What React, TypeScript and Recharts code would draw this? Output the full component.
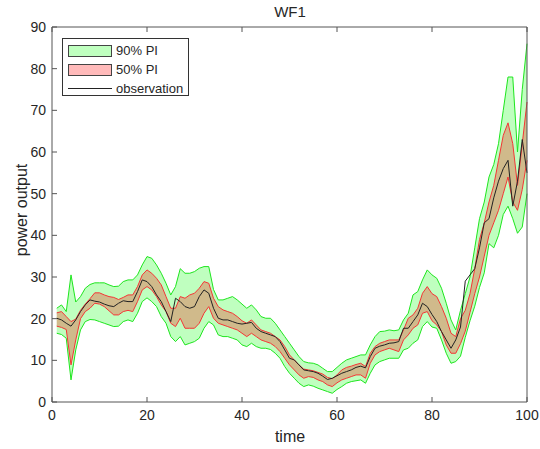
import { ComposedChart, Area, Line, XAxis, YAxis } from 'recharts';

// one value per time step, t = 1..100
const observation = [
  20.1, 19.7, 18.9, 18.2, 19.7, 21.7, 23.3, 24.5, 24.2, 24.0,
  23.5, 23.1, 22.9, 23.7, 24.3, 24.1, 24.1, 26.5, 29.3, 28.9,
  27.7, 25.7, 24.1, 21.7, 19.3, 24.9, 24.1, 22.9, 22.5, 22.9,
  25.3, 26.9, 26.1, 22.5, 20.1, 19.7, 19.7, 19.3, 18.9, 18.7,
  18.9, 19.1, 17.7, 16.9, 16.5, 16.1, 15.7, 14.5, 12.5, 10.5,
  10.1, 8.9, 7.7, 7.5, 7.3, 6.9, 6.2, 5.4, 5.7, 6.3,
  6.9, 7.3, 7.7, 8.3, 8.6, 8.2, 10.9, 12.9, 13.4, 13.7,
  14.1, 14.2, 14.5, 17.7, 17.7, 19.3, 20.9, 23.7, 22.9, 21.0,
  19.3, 16.9, 14.9, 12.9, 14.9, 18.0, 29.0, 30.5, 32.0, 37.0,
  43.0, 44.0, 49.0, 53.0, 56.0, 58.0, 47.0, 53.0, 63.0, 55.0,
];

const lower50 = [
  18.2, 17.9, 17.4, 8.9, 14.9, 20.0, 21.7, 22.5, 23.7, 23.5,
  22.9, 21.9, 20.9, 20.9, 21.7, 22.0, 21.7, 24.1, 26.9, 27.7,
  26.9, 25.3, 23.3, 21.7, 18.9, 18.1, 20.1, 17.7, 17.7, 17.7,
  18.9, 21.3, 22.9, 20.1, 18.9, 18.5, 18.1, 17.7, 17.3, 16.5,
  15.7, 16.5, 15.7, 14.9, 14.5, 14.1, 13.3, 12.1, 10.5, 8.9,
  7.7, 6.5, 5.7, 6.1, 5.9, 5.3, 4.9, 4.1, 3.7, 4.6,
  5.3, 5.7, 6.1, 6.5, 6.5, 5.7, 9.3, 11.3, 12.1, 12.5,
  12.9, 12.5, 12.1, 14.9, 16.1, 17.7, 18.5, 21.3, 21.7, 19.5,
  18.5, 16.9, 13.7, 11.7, 11.7, 14.0, 17.0, 21.5, 26.0, 30.0,
  35.0, 40.0, 43.0, 46.0, 50.0, 54.0, 48.0, 46.0, 51.0, 58.0,
];

const upper50 = [
  21.4, 21.7, 20.5, 19.3, 19.9, 22.0, 23.5, 24.8, 26.2, 26.2,
  25.7, 25.3, 25.1, 24.6, 25.1, 25.7, 25.7, 27.7, 30.5, 31.7,
  30.9, 29.7, 28.1, 25.3, 22.5, 22.5, 25.3, 24.9, 25.7, 26.1,
  27.3, 28.9, 28.5, 24.9, 22.9, 22.1, 21.7, 21.3, 20.5, 19.5,
  18.9, 19.7, 18.5, 17.3, 16.9, 16.5, 15.7, 14.9, 13.3, 11.3,
  10.1, 8.9, 7.9, 7.7, 7.5, 7.1, 6.7, 5.9, 5.6, 6.5,
  7.7, 8.3, 8.6, 9.0, 9.3, 8.5, 11.7, 13.3, 14.1, 14.5,
  14.9, 14.9, 14.9, 17.3, 20.1, 20.9, 22.5, 26.1, 27.7, 26.0,
  25.3, 22.9, 20.1, 16.5, 15.7, 20.0, 22.0, 26.0, 32.0, 39.0,
  43.0, 48.0, 52.0, 58.0, 64.0, 67.0, 62.0, 52.0, 62.0, 72.0,
];

const lower90 = [
  16.5, 16.2, 15.3, 5.3, 12.5, 17.3, 19.3, 19.8, 19.7, 19.3,
  18.9, 18.5, 18.1, 18.2, 19.3, 19.7, 19.3, 21.3, 24.1, 25.0,
  24.1, 22.9, 20.5, 18.9, 15.7, 14.5, 15.7, 13.7, 14.1, 14.5,
  15.3, 17.7, 19.3, 18.5, 16.1, 15.7, 15.7, 15.3, 14.9, 13.7,
  13.3, 14.1, 13.3, 12.9, 12.9, 12.6, 11.7, 10.5, 8.5, 6.9,
  5.7, 4.5, 3.7, 4.1, 3.8, 3.3, 2.9, 2.5, 2.1, 3.0,
  3.7, 4.5, 4.9, 5.1, 5.3, 4.5, 6.9, 8.9, 9.7, 10.1,
  10.5, 10.5, 10.5, 12.5, 12.9, 14.1, 14.9, 18.1, 19.3, 18.0,
  17.7, 14.9, 11.7, 9.3, 9.7, 11.0, 15.5, 19.5, 23.0, 27.5,
  31.0, 38.0, 37.0, 40.0, 45.0, 47.0, 44.0, 40.5, 42.0, 50.0,
];

const upper90 = [
  22.5, 23.3, 21.7, 30.5, 24.0, 25.3, 27.3, 28.2, 28.6, 28.6,
  28.6, 28.1, 27.7, 27.8, 28.9, 29.3, 29.3, 30.5, 32.9, 34.9,
  34.5, 32.9, 30.9, 28.5, 25.7, 27.7, 32.0, 30.9, 30.9, 31.3,
  32.1, 32.5, 32.5, 27.0, 24.5, 24.5, 24.9, 25.3, 24.5, 23.5,
  22.5, 23.3, 22.1, 20.5, 20.1, 20.1, 18.9, 17.3, 15.7, 14.1,
  12.5, 10.9, 9.7, 9.4, 9.3, 8.9, 8.1, 7.3, 7.3, 8.3,
  9.3, 10.1, 10.5, 10.9, 11.3, 11.3, 13.7, 15.7, 16.9, 17.0,
  17.3, 17.1, 17.3, 19.7, 21.3, 25.7, 26.5, 29.3, 31.7, 30.5,
  29.7, 27.3, 23.7, 19.7, 17.3, 22.0, 26.0, 30.0, 37.0, 44.0,
  48.0, 54.0, 57.0, 62.0, 70.0, 78.0, 78.0, 60.0, 75.0, 86.0,
];

const xTicks = [0, 20, 40, 60, 80, 100];
const yTicks = [0, 10, 20, 30, 40, 50, 60, 70, 80, 90];

const data = observation.map((obs, i) => ({
  t: i + 1,
  obs,
  pi50: [lower50[i], upper50[i]],
  pi90: [lower90[i], upper90[i]],
}));

const FONT = '"Liberation Sans", Arial, Helvetica, sans-serif';
const AXIS = '#555555';
const TEXT = '#262626';
const tickStyle = { fill: TEXT, fontSize: 14, fontFamily: FONT };
const noLabel = () => <g />;

function PiLegend() {
  const row = { display: 'flex', alignItems: 'center', height: 19 };
  const swatch = { width: 44, height: 12, border: '1px solid #444', boxSizing: 'border-box' as const, marginRight: 4 };
  return (
    <div
      style={{
        position: 'absolute', left: 62, top: 38, width: 127, height: 58,
        border: '1px solid #333', background: '#fff', boxSizing: 'border-box',
        padding: '2px 0 0 5px', fontFamily: FONT, fontSize: 13, color: TEXT,
      }}
    >
      <div style={row}>
        <div style={{ ...swatch, background: '#bfffbf' }} />
        <span>90% PI</span>
      </div>
      <div style={row}>
        <div style={{ ...swatch, background: '#ffbaba' }} />
        <span>50% PI</span>
      </div>
      <div style={row}>
        <div style={{ width: 44, height: 0, borderTop: '1px solid #222', marginRight: 4 }} />
        <span>observation</span>
      </div>
    </div>
  );
}

export default function App() {
  return (
    <div style={{ position: 'absolute', left: 0, top: 0, width: 540, height: 449, background: '#fff' }}>
      <ComposedChart width={540} height={449} data={data} margin={{ top: 26, right: 12, bottom: 0, left: 12 }}>
        <XAxis
          xAxisId="b" dataKey="t" type="number" domain={[0, 100]} ticks={xTicks} interval={0}
          height={47} tickSize={-5} tickMargin={13} stroke={AXIS} tick={tickStyle}
        />
        <XAxis
          xAxisId="top" orientation="top" dataKey="t" type="number" domain={[0, 100]} ticks={xTicks}
          interval={0} height={1} tickSize={-5} tick={noLabel} stroke={AXIS}
        />
        <YAxis
          yAxisId="l" type="number" domain={[0, 90]} ticks={yTicks} interval={0}
          width={40} tickSize={-5} tickMargin={11} stroke={AXIS} tick={tickStyle}
        />
        <YAxis
          yAxisId="r" orientation="right" type="number" domain={[0, 90]} ticks={yTicks}
          interval={0} width={1} tickSize={-5} tick={noLabel} stroke={AXIS}
        />
        <Area
          xAxisId="b" yAxisId="l" type="linear" dataKey="pi90" stroke="#1ee61e" strokeWidth={1}
          fill="#00ff00" fillOpacity={0.25} dot={false} activeDot={false} isAnimationActive={false}
        />
        <Area
          xAxisId="b" yAxisId="l" type="linear" dataKey="pi50" stroke="#f53535" strokeWidth={1}
          fill="#ff0000" fillOpacity={0.27} dot={false} activeDot={false} isAnimationActive={false}
        />
        <Line
          xAxisId="b" yAxisId="l" type="linear" dataKey="obs" stroke="#222222" strokeWidth={1}
          dot={false} activeDot={false} isAnimationActive={false}
        />
      </ComposedChart>

      <div style={{ position: 'absolute', left: 190, width: 200, top: 4, textAlign: 'center', fontFamily: FONT, fontSize: 15, color: TEXT, lineHeight: '16px' }}>
        WF1
      </div>
      <div style={{ position: 'absolute', left: 190, width: 200, top: 428, textAlign: 'center', fontFamily: FONT, fontSize: 16, color: TEXT, lineHeight: '18px' }}>
        time
      </div>
      <div
        style={{
          position: 'absolute', left: 22 - 75, top: 210 - 9, width: 150, height: 18, lineHeight: '18px',
          textAlign: 'center', transform: 'rotate(-90deg)', fontFamily: FONT, fontSize: 16, color: TEXT,
        }}
      >
        power output
      </div>
      <PiLegend />
    </div>
  );
}
